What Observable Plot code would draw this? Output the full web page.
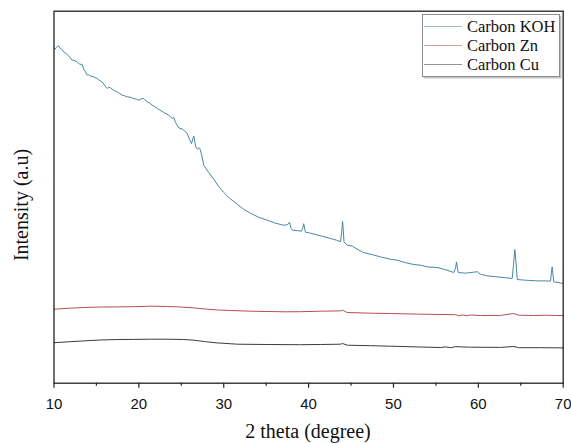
<!DOCTYPE html>
<html><head><meta charset="utf-8">
<script src="https://cdn.jsdelivr.net/npm/d3@7"></script>
<script src="https://cdn.jsdelivr.net/npm/@observablehq/plot@0.6"></script>
<style>
body{margin:0;background:#fff;}
#wrap{position:relative;width:571px;height:443px;overflow:hidden;}
.legend{position:absolute;left:422px;top:14px;width:136px;height:61px;border:1px solid #8c8c8c;box-shadow:1.5px 1.5px 0 #c4c4c4;background:#fff;font-family:"Liberation Serif";font-size:16.5px;color:#111;}
.row{position:absolute;left:0;height:19px;width:136px;}
.row .ln{position:absolute;left:1px;width:38px;top:9px;height:0;border-top:1px solid;}
.row .tx{position:absolute;left:44px;top:0;line-height:19px;white-space:nowrap;}
.xt{position:absolute;font-family:"Liberation Serif";font-size:20px;color:#111;white-space:nowrap;}
</style></head>
<body><div id="wrap"></div>
<script>
const seriesNames = ["Carbon KOH", "Carbon Zn", "Carbon Cu"];
const seriesColors = ["#4a86a2", "#b5504f", "#3c3c3c"];
const xTicks = [10, 20, 30, 40, 50, 60, 70];
const xMinorTicks = [15, 25, 35, 45, 55, 65];
const xLabel = "2 theta (degree)";
const yLabel = "Intensity (a.u)";

const kohTheta = [10.0,10.09,10.3,10.53,10.68,10.9,11.15,11.4,11.74,12.14,12.33,12.73,13.0,13.32,13.5,13.71,13.91,14.1,14.3,14.6,14.89,15.09,15.4,15.68,15.95,16.27,16.45,16.66,16.95,17.25,17.6,18.04,18.3,18.62,19.0,19.4,19.7,19.99,20.3,20.58,20.98,21.3,21.57,21.9,22.16,22.5,22.94,23.2,23.53,23.93,24.1,24.32,24.7,25.14,25.69,25.96,26.2,26.47,26.71,26.91,27.1,27.18,27.38,27.65,28.2,28.83,29.38,29.97,30.68,31.59,32.33,33.15,34.1,35.12,36.1,37.04,37.51,37.75,37.93,38.1,38.69,39.16,39.3,39.43,39.55,39.63,40.22,41.4,42.58,43.29,43.76,43.9,44.0,44.09,44.17,44.55,45.17,45.53,46.47,47.53,48.47,49.65,50.44,51.42,52.4,53.18,53.97,55.15,56.13,57.11,57.31,57.43,57.54,57.63,58.49,59.43,59.87,60.25,61.04,62.02,63.2,63.99,64.14,64.3,64.44,64.58,65.56,66.93,67.91,68.5,68.62,68.7,68.79,68.89,69.66,70.0];
const kohI = [334,333.7,336,337.5,335.3,334,331.3,330,327.3,323,323,321.3,319,318.7,314,311.3,308,308.5,307.3,306.5,305.3,304.7,302.5,301.3,298,294.7,296,295.3,293.5,292,290.5,288,287.5,286.3,286,284.7,284,283,284.5,284.7,281.3,280,278,276.5,274.7,273,270.7,269.5,268,264.7,266,260.7,255.3,254,250,244,239.7,247,236.3,234,235.5,234.7,229,218,211,204,197,191,185,179,174,170,166,163,160,158,158.5,161,155,153,152.5,152,155,159.5,154,151,150,147.5,144.7,143,141.5,151,162,153,141.3,138,137,135,130.7,128.5,126.3,124,123,120.5,118.7,118,116.3,115.7,113.5,110.7,115,121.3,115,110.7,110,111,111.5,109,107.3,106.5,105.5,104.7,118,133.7,121,103.7,103,102.3,102.3,102,111,116.3,109,101.3,100.3,99.5];

const znTheta = [10.0,11.94,13.51,15.48,17.45,19.37,21.37,23.34,24.91,26.47,28.05,29.38,30.8,33.15,35.12,37.28,39.04,41.4,43.76,44.0,44.55,47.29,49.65,53.18,57.31,57.66,58.13,58.6,59.08,60.25,62.61,64.18,64.73,66.5,67.91,69.09,70.0];
const znI = [74,75,75.7,76.2,76.3,76.5,77,76.7,76.2,75.3,74,73.2,72.7,72,71.7,71.4,71.5,72,72.3,73,70.7,70,69.7,69,68.5,67.5,68.2,67.5,68.2,67.7,67.8,69.7,68,67.7,68,67.7,67.7];

const cuTheta = [10.0,11.94,13.51,15.48,17.45,19.37,21.37,23.34,25.29,26.47,27.85,29.23,31.59,35.12,39.04,41.4,43.76,44.0,44.55,47.29,49.65,53.18,55.54,56.13,56.72,57.31,59.08,62.61,64.18,64.73,67.32,70.0];
const cuI = [40.5,41.5,42.3,43.2,43.7,43.8,44,44,43.7,43,41.5,40.3,39,38.7,38.5,38.7,39,39.7,38,37.5,37,36.2,35.7,36.3,35.5,36.5,36,35.8,36.7,35.5,35.5,35.3];

const toRows = (th, v, s) => th.map((t, i) => ({theta: t, intensity: v[i], series: s}));
const koh = toRows(kohTheta, kohI, seriesNames[0]);
const zn = toRows(znTheta, znI, seriesNames[1]);
const cu = toRows(cuTheta, cuI, seriesNames[2]);

const W = 571, H = 443;
const plot = Plot.plot({
  width: W, height: H,
  marginLeft: 53.5, marginRight: 8.3, marginTop: 10.7, marginBottom: 60.3,
  style: {fontFamily: "Liberation Sans", fontSize: "15px", color: "#111", background: "#fff"},
  x: {domain: [10, 70]},
  y: {domain: [0, 372], axis: null},
  marks: [
    Plot.line(cu, {x: "theta", y: "intensity", stroke: seriesColors[2], strokeWidth: 1}),
    Plot.line(zn, {x: "theta", y: "intensity", stroke: seriesColors[1], strokeWidth: 1}),
    Plot.line(koh, {x: "theta", y: "intensity", stroke: seriesColors[0], strokeWidth: 1}),
    Plot.axisX({ticks: xMinorTicks, tickSize: 3, tickFormat: () => "", label: null, stroke: "#222", strokeWidth: 1.2}),
    Plot.axisX({ticks: xTicks, tickSize: 5, tickPadding: 10.6, tickFormat: d => String(d), label: null, stroke: "#222", strokeWidth: 1.2}),
    Plot.frame({stroke: "#222", strokeWidth: 1.3})
  ]
});
const wrap = document.getElementById("wrap");
wrap.appendChild(plot);

// axis titles
const xt = document.createElement("div");
xt.className = "xt"; xt.textContent = xLabel;
xt.style.left = "308px"; xt.style.top = "431px"; xt.style.transform = "translate(-50%,-50%)";
wrap.appendChild(xt);
const yt = document.createElement("div");
yt.className = "xt"; yt.textContent = yLabel;
yt.style.left = "21px"; yt.style.top = "205px"; yt.style.transform = "translate(-50%,-50%) rotate(-90deg)";
wrap.appendChild(yt);

// legend
const lg = document.createElement("div");
lg.className = "legend";
seriesNames.forEach((n, i) => {
  const r = document.createElement("div");
  r.className = "row"; r.style.top = (2 + i * 19) + "px";
  const l = document.createElement("div"); l.className = "ln"; l.style.borderTopColor = seriesColors[i]; l.style.opacity = 0.55;
  const t = document.createElement("div"); t.className = "tx"; t.textContent = n;
  r.appendChild(l); r.appendChild(t); lg.appendChild(r);
});
wrap.appendChild(lg);
</script></body></html>
